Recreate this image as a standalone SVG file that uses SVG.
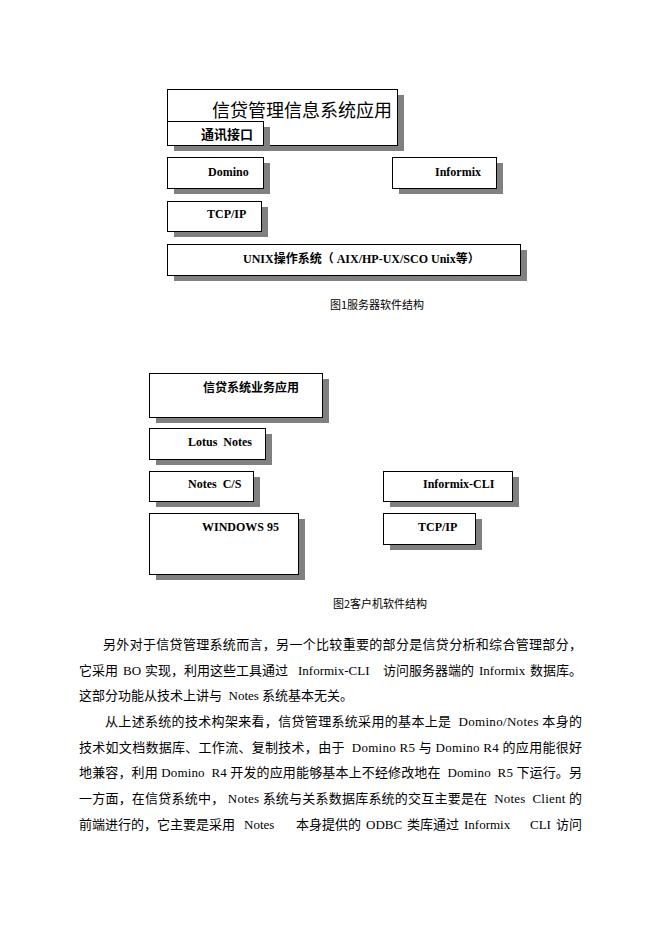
<svg xmlns="http://www.w3.org/2000/svg" width="662" height="936" viewBox="0 0 662 936">
<style>
.sh{fill:#808080;stroke:none}
.bx{fill:#ffffff;stroke:#000000;stroke-width:1}
.lb{font-family:"Liberation Serif","Noto Sans CJK SC",serif;font-weight:bold;font-size:12px;fill:#000}
.cn{font-family:"Noto Sans CJK SC",sans-serif;font-weight:bold;font-size:12px;fill:#000}
.ttl{font-family:"Noto Sans CJK SC",sans-serif;font-size:18px;fill:#000}
.cap{font-family:"Noto Sans CJK SC",sans-serif;font-size:11px;fill:#000}
.bd{font-family:"Liberation Serif","Noto Sans CJK SC",serif;font-size:13px;fill:#000}
</style>
<rect x="0" y="0" width="662" height="936" fill="#ffffff"/>
<g id="connectors"/>
<g id="srv-app">
<rect class="sh" x="174" y="95" width="230" height="56"/>
<rect class="bx" x="167.5" y="89.5" width="230" height="56"/>
<text class="ttl" x="212" y="117">信贷管理信息系统应用</text>
</g>
<g id="srv-comm">
<rect class="sh" x="174" y="127" width="96" height="24"/>
<rect class="bx" x="167.5" y="121.5" width="96" height="24"/>
<text class="cn" x="201" y="139" style="font-size:13px">通讯接口</text>
</g>
<g id="srv-domino">
<rect class="sh" x="174" y="163" width="96" height="31"/>
<rect class="bx" x="167.5" y="157.5" width="96" height="31"/>
<text class="lb" x="208" y="176">Domino</text>
</g>
<g id="srv-informix">
<rect class="sh" x="399" y="163" width="104" height="31"/>
<rect class="bx" x="392.5" y="157.5" width="104" height="31"/>
<text class="lb" x="435" y="176">Informix</text>
</g>
<g id="srv-tcpip">
<rect class="sh" x="174" y="207" width="94" height="30"/>
<rect class="bx" x="167.5" y="201.5" width="94" height="30"/>
<text class="lb" x="207" y="218">TCP/IP</text>
</g>
<g id="srv-unix">
<rect class="sh" x="174" y="250" width="353" height="31"/>
<rect class="bx" x="167.5" y="244.5" width="353" height="31"/>
<text class="lb" x="243" y="263">UNIX操作系统（ AIX/HP-UX/SCO Unix等）</text>
</g>
<text class="cap" x="330" y="309">图1服务器软件结构</text>

<g id="cli-app">
<rect class="sh" x="156" y="379" width="173" height="44"/>
<rect class="bx" x="149.5" y="373.5" width="173" height="44"/>
<text class="cn" x="203" y="392">信贷系统业务应用</text>
</g>
<g id="cli-lotus">
<rect class="sh" x="156" y="434" width="116" height="31"/>
<rect class="bx" x="149.5" y="428.5" width="116" height="31"/>
<text class="lb" x="188" y="446" xml:space="preserve">Lotus  Notes</text>
</g>
<g id="cli-notescs">
<rect class="sh" x="156" y="477" width="104" height="30"/>
<rect class="bx" x="149.5" y="471.5" width="104" height="30"/>
<text class="lb" x="188" y="488" xml:space="preserve">Notes  C/S</text>
</g>
<g id="cli-win95">
<rect class="sh" x="156" y="519" width="149" height="61"/>
<rect class="bx" x="149.5" y="513.5" width="149" height="61"/>
<text class="lb" x="202" y="531">WINDOWS 95</text>
</g>
<g id="cli-informixcli">
<rect class="sh" x="390" y="477" width="129" height="30"/>
<rect class="bx" x="383.5" y="471.5" width="129" height="30"/>
<text class="lb" x="423" y="488">Informix-CLI</text>
</g>
<g id="cli-tcpip">
<rect class="sh" x="390" y="519" width="92" height="31"/>
<rect class="bx" x="383.5" y="513.5" width="92" height="31"/>
<text class="lb" x="418" y="531">TCP/IP</text>
</g>
<text class="cap" x="333" y="608">图2客户机软件结构</text>

<g id="body">
<text class="bd" x="103" y="649" textLength="479" lengthAdjust="spacing">另外对于信贷管理系统而言，另一个比较重要的部分是信贷分析和综合管理部分，</text>
<text class="bd" y="675"><tspan x="79">它采用</tspan><tspan x="123">BO</tspan><tspan x="145">实现，利用这些工具通过</tspan><tspan x="298">Informix-CLI</tspan><tspan x="383">访问服务器端的</tspan><tspan x="479">Informix</tspan><tspan x="530">数据库。</tspan></text>
<text class="bd" x="79" y="700" xml:space="preserve">这部分功能从技术上讲与  Notes 系统基本无关。</text>
<text class="bd" x="105" y="726" textLength="477" lengthAdjust="spacing" xml:space="preserve">从上述系统的技术构架来看，信贷管理系统采用的基本上是  Domino/Notes 本身的</text>
<text class="bd" x="79" y="752" textLength="503" lengthAdjust="spacing" xml:space="preserve">技术如文档数据库、工作流、复制技术，由于  Domino R5 与 Domino R4 的应用能很好</text>
<text class="bd" x="79" y="777" textLength="503" lengthAdjust="spacing" xml:space="preserve">地兼容，利用 Domino  R4 开发的应用能够基本上不经修改地在  Domino  R5 下运行。另</text>
<text class="bd" x="79" y="803" textLength="503" lengthAdjust="spacing" xml:space="preserve">一方面，在信贷系统中， Notes 系统与关系数据库系统的交互主要是在  Notes  Client 的</text>
<text class="bd" y="829"><tspan x="79">前端进行的，它主要是采用</tspan><tspan x="244">Notes</tspan><tspan x="296">本身提供的</tspan><tspan x="366">ODBC</tspan><tspan x="407">类库通过</tspan><tspan x="464">Informix</tspan><tspan x="530">CLI</tspan><tspan x="556">访问</tspan></text>
</g>
</svg>
